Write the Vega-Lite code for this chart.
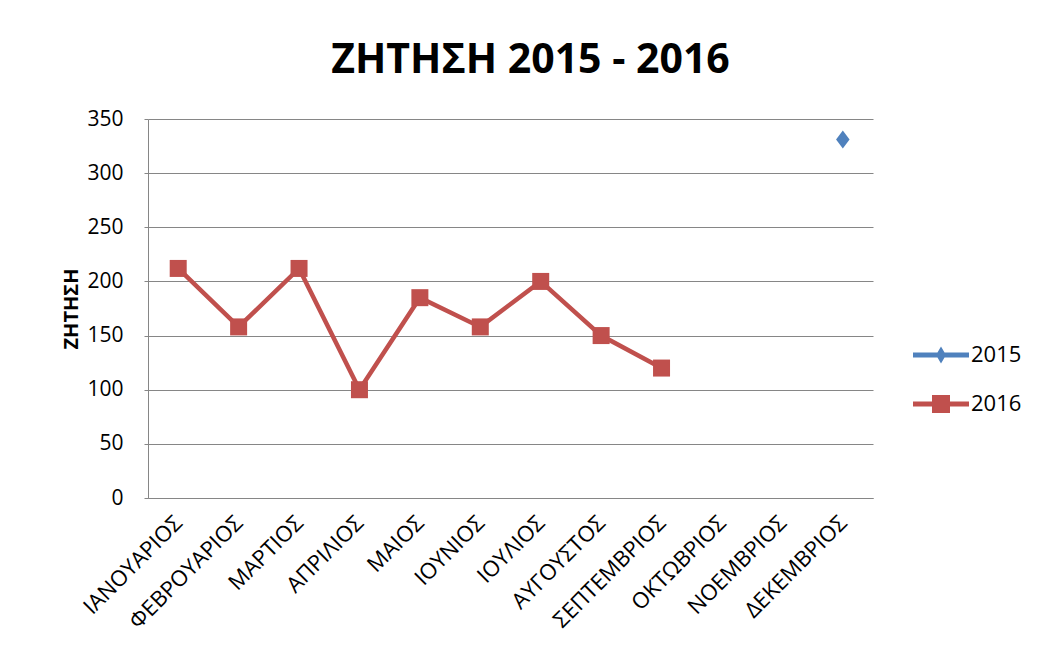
{
  "$schema": "https://vega.github.io/schema/vega-lite/v6.json",
  "width": 725,
  "height": 379,
  "autosize": {"type": "none"},
  "padding": {"left": 148, "top": 119, "right": 167, "bottom": 166},
  "background": "white",
  "config": {
    "font": "Open Sans",
    "view": {"stroke": null}
  },
  "title": {
    "text": "ΖΗΤΗΣΗ 2015 - 2016",
    "font": "Open Sans",
    "fontSize": 41,
    "fontWeight": "bold",
    "color": "black",
    "anchor": "middle",
    "baseline": "alphabetic",
    "offset": 42,
    "dx": 20,
    "dy": 48
  },
  "data": {
    "values": [
      {"month": "ΙΑΝΟΥΑΡΙΟΣ", "year": "2016", "value": 212},
      {"month": "ΦΕΒΡΟΥΑΡΙΟΣ", "year": "2016", "value": 158},
      {"month": "ΜΑΡΤΙΟΣ", "year": "2016", "value": 212},
      {"month": "ΑΠΡΙΛΙΟΣ", "year": "2016", "value": 100},
      {"month": "ΜΑΙΟΣ", "year": "2016", "value": 185},
      {"month": "ΙΟΥΝΙΟΣ", "year": "2016", "value": 158},
      {"month": "ΙΟΥΛΙΟΣ", "year": "2016", "value": 200},
      {"month": "ΑΥΓΟΥΣΤΟΣ", "year": "2016", "value": 150},
      {"month": "ΣΕΠΤΕΜΒΡΙΟΣ", "year": "2016", "value": 120},
      {"month": "ΔΕΚΕΜΒΡΙΟΣ", "year": "2015", "value": 331}
    ]
  },
  "encoding": {
    "x": {
      "field": "month",
      "type": "ordinal",
      "sort": null,
      "scale": {
        "type": "point",
        "padding": 0.5,
        "domain": ["ΙΑΝΟΥΑΡΙΟΣ", "ΦΕΒΡΟΥΑΡΙΟΣ", "ΜΑΡΤΙΟΣ", "ΑΠΡΙΛΙΟΣ", "ΜΑΙΟΣ", "ΙΟΥΝΙΟΣ", "ΙΟΥΛΙΟΣ", "ΑΥΓΟΥΣΤΟΣ", "ΣΕΠΤΕΜΒΡΙΟΣ", "ΟΚΤΩΒΡΙΟΣ", "ΝΟΕΜΒΡΙΟΣ", "ΔΕΚΕΜΒΡΙΟΣ"]
      },
      "axis": {
        "title": null,
        "labelAngle": -45,
        "labelAlign": "right",
        "labelBaseline": "middle",
        "labelFontSize": 22,
        "labelColor": "black",
        "labelPadding": 21,
        "ticks": false,
        "domainColor": "#868686",
        "domainWidth": 1,
        "grid": false
      }
    },
    "y": {
      "field": "value",
      "type": "quantitative",
      "scale": {"domain": [0, 350], "nice": false, "zero": true},
      "axis": {
        "title": "ΖΗΤΗΣΗ",
        "titleFontSize": 20,
        "titleFontWeight": "bold",
        "titleColor": "black",
        "titlePadding": 5,
        "values": [0, 50, 100, 150, 200, 250, 300, 350],
        "labelFontSize": 21,
        "labelColor": "black",
        "labelPadding": 21,
        "tickSize": 4,
        "tickColor": "#868686",
        "domainColor": "#868686",
        "gridColor": "#868686",
        "gridWidth": 1
      }
    },
    "color": {
      "field": "year",
      "type": "nominal",
      "scale": {"domain": ["2015", "2016"], "range": ["#4F81BD", "#C0504D"]},
      "legend": {
        "title": null,
        "orient": "none",
        "legendX": 782,
        "legendY": 225,
        "symbolSize": 400,
        "labelFontSize": 22,
        "labelColor": "black",
        "labelOffset": 19,
        "rowPadding": 27,
        "encode": {
          "symbols": {
            "update": {
              "shape": {"signal": "datum.value === '2015' ? 'M-2.8,-0.25L2.8,-0.25L2.8,0.25L-2.8,0.25Z M0,-0.85L0.5,0L0,0.85L-0.5,0Z' : 'M-2.8,-0.25L2.8,-0.25L2.8,0.25L-2.8,0.25Z M-0.9,-0.9L0.9,-0.9L0.9,0.9L-0.9,0.9Z'"},
              "fill": {"scale": "color", "field": "value"},
              "strokeWidth": {"value": 0},
              "opacity": {"value": 1},
              "fillOpacity": {"value": 1}
            }
          }
        }
      }
    }
  },
  "layer": [
    {
      "mark": {"type": "line", "strokeWidth": 4.5}
    },
    {
      "transform": [{"filter": "datum.year === '2016'"}],
      "mark": {"type": "point", "filled": true, "opacity": 1, "size": 289, "shape": "square"}
    },
    {
      "transform": [{"filter": "datum.year === '2015'"}],
      "mark": {"type": "point", "filled": true, "opacity": 1, "size": 324, "shape": "M0,-1L0.75,0L0,1L-0.75,0Z"}
    }
  ]
}
